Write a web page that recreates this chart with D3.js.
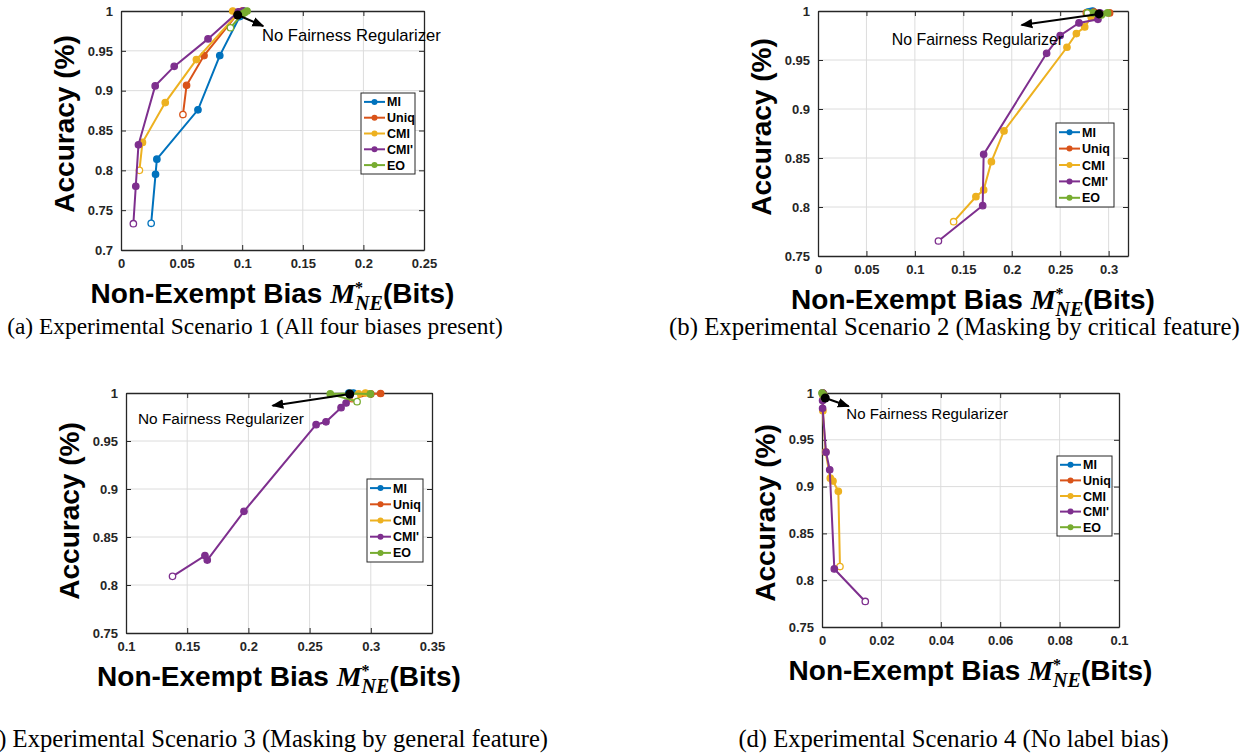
<!DOCTYPE html>
<html><head><meta charset="utf-8">
<script src="https://cdn.jsdelivr.net/npm/d3@7"></script>
<style>body{margin:0;background:#fff;overflow:hidden}</style></head>
<body><svg id="chart" width="1249" height="754"></svg>
<script>
// ---------- data ----------
const seriesNames = ["MI", "Uniq", "CMI", "CMI'", "EO"];
const seriesColors = ["#0072BD", "#D95319", "#EDB120", "#7E2F8E", "#77AC30"];

// Scenario 1 (All four biases present): [bias, accuracy]
const s1_MI   = [[0.101,1.0],[0.098,0.993],[0.0815,0.944],[0.0635,0.876],[0.0296,0.814],[0.0285,0.795],[0.0249,0.7335]];
const s1_Uniq = [[0.100,1.0],[0.096,0.996],[0.0685,0.944],[0.0541,0.9067],[0.0511,0.870]];
const s1_CMI  = [[0.0922,1.0],[0.097,0.998],[0.0622,0.939],[0.0365,0.885],[0.0177,0.835],[0.0152,0.800]];
const s1_CMIp = [[0.101,1.0],[0.0968,0.999],[0.0718,0.965],[0.0439,0.9305],[0.0282,0.906],[0.0144,0.832],[0.0122,0.780],[0.0102,0.733]];
const s1_EO   = [[0.104,1.0],[0.102,0.998],[0.100,0.996],[0.0903,0.979]];
const s1_ref  = [0.0963, 0.995];

// Scenario 2 (Masking by critical feature)
const s2_MI   = [[0.2835,1.0],[0.281,0.9995],[0.2785,0.999]];
const s2_Uniq = [[0.301,0.998],[0.285,0.999],[0.277,0.998]];
const s2_CMI  = [[0.2905,0.997],[0.282,0.994],[0.2753,0.9837],[0.2667,0.977],[0.257,0.963],[0.192,0.8776],[0.179,0.8463],[0.171,0.8174],[0.163,0.8105],[0.140,0.785]];
const s2_CMIp = [[0.291,0.998],[0.289,0.9915],[0.2694,0.9878],[0.250,0.975],[0.236,0.9568],[0.171,0.8537],[0.170,0.8014],[0.1243,0.7653]];
const s2_EO   = [[0.2989,0.998],[0.2925,0.996],[0.284,0.998],[0.278,0.998]];
const s2_ref  = [0.290, 0.997];

// Scenario 3 (Masking by general feature)
const s3_MI   = [[0.2858,1.0],[0.284,0.9995],[0.282,1.0]];
const s3_Uniq = [[0.308,0.9995],[0.300,0.999],[0.2847,0.994]];
const s3_CMI  = [[0.2956,1.0],[0.290,0.999],[0.287,0.996]];
const s3_CMIp = [[0.283,0.998],[0.2798,0.9896],[0.2757,0.9847],[0.2634,0.970],[0.2553,0.967],[0.1964,0.8767],[0.1664,0.826],[0.1645,0.8306],[0.138,0.809]];
const s3_EO   = [[0.2997,0.999],[0.283,0.9995],[0.2669,0.999],[0.2888,0.991]];
const s3_ref  = [0.2828, 0.999];

// Scenario 4 (No label bias)
const s4_MI   = [[0.0002,1.0],[0.0005,0.999]];
const s4_Uniq = [[0.0003,1.0],[0.0006,0.998]];
const s4_CMI  = [[0.0003,0.9975],[0.0003,0.981],[0.0012,0.937],[0.0028,0.909],[0.0037,0.906],[0.0055,0.8949],[0.00605,0.8146]];
const s4_CMIp = [[0.0002,1.0],[0.0002,0.992],[0.0002,0.9837],[0.00135,0.9368],[0.0026,0.918],[0.00415,0.812],[0.01457,0.7773]];
const s4_EO   = [[0.0,1.0],[0.0005,0.998],[0.0008,0.995]];
const s4_ref  = [0.0011, 0.9947];

// tick values
const xTicks1 = [0, 0.05, 0.1, 0.15, 0.2, 0.25];
const xTicks2 = [0, 0.05, 0.1, 0.15, 0.2, 0.25, 0.3];
const xTicks3 = [0.1, 0.15, 0.2, 0.25, 0.3, 0.35];
const xTicks4 = [0, 0.02, 0.04, 0.06, 0.08, 0.1];
const yTicks1 = [0.7, 0.75, 0.8, 0.85, 0.9, 0.95, 1];
const yTicks234 = [0.75, 0.8, 0.85, 0.9, 0.95, 1];

const captions = [
  "(a) Experimental Scenario 1 (All four biases present)",
  "(b) Experimental Scenario 2 (Masking by critical feature)",
  "(c) Experimental Scenario 3 (Masking by general feature)",
  "(d) Experimental Scenario 4 (No label bias)"
];
const annotationText = "No Fairness Regularizer";
const yLabel = "Accuracy (%)";

// ---------- layout ----------
const panels = [
  { series:[s1_MI,s1_Uniq,s1_CMI,s1_CMIp,s1_EO], ref:s1_ref, box:[121,11,424,250], xd:[0,0.25], xt:xTicks1, yd:[0.7,1], yt:yTicks1,
    legend:[361,93,415,174], arrowTo:[0.1174,0.981], textAt:[0.1163,0.9623], annSize:16.6, ylabY:124,
    cap:{x:255, y:334, anchor:"middle", size:23.4} },
  { series:[s2_MI,s2_Uniq,s2_CMI,s2_CMIp,s2_EO], ref:s2_ref, box:[818,11,1128,256], xd:[0,0.32], xt:xTicks2, yd:[0.75,1], yt:yTicks234,
    legend:[1056,123,1114,207], arrowTo:[0.2101,0.9857], textAt:[0.0762,0.9653], annSize:15.9, ylabY:127,
    cap:{x:954.5, y:335, anchor:"middle", size:24.8} },
  { series:[s3_MI,s3_Uniq,s3_CMI,s3_CMIp,s3_EO], ref:s3_ref, box:[126,393,432,633], xd:[0.1,0.35], xt:xTicks3, yd:[0.75,1], yt:yTicks234,
    legend:[367,479,423,562], arrowTo:[0.2197,0.9868], textAt:[0.1098,0.968], annSize:15.4, ylabY:511,
    cap:{x:548, y:747, anchor:"end", size:24.6} },
  { series:[s4_MI,s4_Uniq,s4_CMI,s4_CMIp,s4_EO], ref:s4_ref, box:[822,393,1119,627], xd:[0,0.1], xt:xTicks4, yd:[0.75,1], yt:yTicks234,
    legend:[1057,456,1112,536], arrowTo:[0.009,0.9858], textAt:[0.0082,0.972], annSize:15, ylabY:513,
    cap:{x:953.5, y:747, anchor:"middle", size:24.6} }
];

const svg = d3.select("#chart");
const defs = svg.append("defs");
defs.append("marker").attr("id","arrow").attr("viewBox","0 0 10 10").attr("refX",9).attr("refY",5)
  .attr("markerWidth",6).attr("markerHeight",6).attr("markerUnits","strokeWidth").attr("orient","auto")
  .append("path").attr("d","M0,1 L10,5 L0,9 z").attr("fill","#000");

const SANS = "'Liberation Sans', Arial, Helvetica, sans-serif";
const SERIF = "'Liberation Serif', 'Times New Roman', serif";
const AX = "#262626";
const fmt = v => String(+v.toFixed(4));

panels.forEach((p, pi) => {
  const [L, T, R, B] = p.box;
  const x = d3.scaleLinear().domain(p.xd).range([L, R]);
  const y = d3.scaleLinear().domain(p.yd).range([B, T]);
  const g = svg.append("g");

  // grid
  g.append("g").selectAll("line").data(p.xt.filter(v => v > p.xd[0] && v < p.xd[1])).join("line")
    .attr("x1", d => x(d)).attr("x2", d => x(d)).attr("y1", T).attr("y2", B)
    .attr("stroke", "#dcdcdc").attr("stroke-width", 1);
  g.append("g").selectAll("line").data(p.yt.filter(v => v > p.yd[0] && v < p.yd[1])).join("line")
    .attr("x1", L).attr("x2", R).attr("y1", d => y(d)).attr("y2", d => y(d))
    .attr("stroke", "#dcdcdc").attr("stroke-width", 1);

  // axes (ticks inward)
  const tl = 5;
  const xb = g.append("g").attr("transform", `translate(0,${B})`)
    .call(d3.axisBottom(x).tickValues(p.xt).tickFormat(fmt).tickSizeInner(-tl).tickSizeOuter(0).tickPadding(8));
  const xt = g.append("g").attr("transform", `translate(0,${T})`)
    .call(d3.axisTop(x).tickValues(p.xt).tickFormat("").tickSizeInner(-tl).tickSizeOuter(0));
  const yl = g.append("g").attr("transform", `translate(${L},0)`)
    .call(d3.axisLeft(y).tickValues(p.yt).tickFormat(fmt).tickSizeInner(-tl).tickSizeOuter(0).tickPadding(8));
  const yr = g.append("g").attr("transform", `translate(${R},0)`)
    .call(d3.axisRight(y).tickValues(p.yt).tickFormat("").tickSizeInner(-tl).tickSizeOuter(0));
  [xb, xt, yl, yr].forEach(a => {
    a.selectAll("path.domain").attr("stroke", AX).attr("stroke-width", 1.3);
    a.selectAll(".tick line").attr("stroke", AX).attr("stroke-width", 1);
    a.selectAll(".tick text").attr("fill", AX).attr("font-family", SANS).attr("font-weight", "bold").attr("font-size", 13);
  });
  xb.selectAll(".tick text").attr("dy", "0.75em");

  // y label
  g.append("text").attr("transform", `translate(${L - 47},${p.ylabY}) rotate(-90)`)
    .attr("text-anchor", "middle").attr("font-family", SANS).attr("font-weight", "bold").attr("font-size", 28)
    .attr("fill", "#000").text(yLabel);

  // x label
  const xlab = g.append("text").attr("x", (L + R) / 2).attr("y", B + 53).attr("text-anchor", "middle")
    .attr("font-family", SANS).attr("font-weight", "bold").attr("font-size", 28).attr("fill", "#000");
  xlab.append("tspan").text("Non-Exempt Bias ");
  xlab.append("tspan").attr("font-family", SERIF).attr("font-style", "italic").text("M");
  xlab.append("tspan").attr("font-family", SERIF).attr("font-size", 16).attr("dy", -10).text("*");
  xlab.append("tspan").attr("font-family", SERIF).attr("font-style", "italic").attr("font-size", 20).attr("dx", -8).attr("dy", 17).text("NE");
  xlab.append("tspan").attr("dy", -7).text("(Bits)");

  // series
  const line = d3.line().x(d => x(d[0])).y(d => y(d[1]));
  p.series.forEach((s, si) => {
    const c = seriesColors[si];
    g.append("path").datum(s).attr("d", line).attr("fill", "none").attr("stroke", c).attr("stroke-width", 2);
    g.append("g").selectAll("circle").data(s).join("circle")
      .attr("cx", d => x(d[0])).attr("cy", d => y(d[1])).attr("r", 3.2)
      .attr("fill", (d, i) => i === s.length - 1 ? "#fff" : c)
      .attr("stroke", c).attr("stroke-width", 1.3);
  });

  // annotation arrow + dot + text
  g.append("line").attr("x1", x(p.ref[0])).attr("y1", y(p.ref[1]))
    .attr("x2", x(p.arrowTo[0])).attr("y2", y(p.arrowTo[1]))
    .attr("stroke", "#000").attr("stroke-width", 2).attr("marker-end", "url(#arrow)");
  g.append("circle").attr("cx", x(p.ref[0])).attr("cy", y(p.ref[1])).attr("r", 4.5).attr("fill", "#000");
  g.append("text").attr("x", x(p.textAt[0])).attr("y", y(p.textAt[1]))
    .attr("font-family", SANS).attr("font-size", p.annSize).attr("fill", "#000").text(annotationText);

  // legend
  const [lx0, ly0, lx1, ly1] = p.legend;
  g.append("rect").attr("x", lx0).attr("y", ly0).attr("width", lx1 - lx0).attr("height", ly1 - ly0)
    .attr("fill", "#fff").attr("stroke", AX).attr("stroke-width", 1);
  const step = (ly1 - ly0 - 2) / seriesNames.length;
  seriesNames.forEach((n, i) => {
    const cy = ly0 + 1 + step * (i + 0.5);
    g.append("line").attr("x1", lx0 + 3).attr("x2", lx0 + 24).attr("y1", cy).attr("y2", cy)
      .attr("stroke", seriesColors[i]).attr("stroke-width", 2);
    g.append("circle").attr("cx", lx0 + 13.5).attr("cy", cy).attr("r", 3).attr("fill", seriesColors[i]);
    g.append("text").attr("x", lx0 + 26).attr("y", cy).attr("dy", "0.36em")
      .attr("font-family", SANS).attr("font-weight", "bold").attr("font-size", 12.5).attr("fill", "#000").text(n);
  });

  // caption
  svg.append("text").attr("x", p.cap.x).attr("y", p.cap.y).attr("text-anchor", p.cap.anchor)
    .attr("font-family", SERIF).attr("font-size", p.cap.size).attr("fill", "#000").text(captions[pi]);
});
</script></body></html>
